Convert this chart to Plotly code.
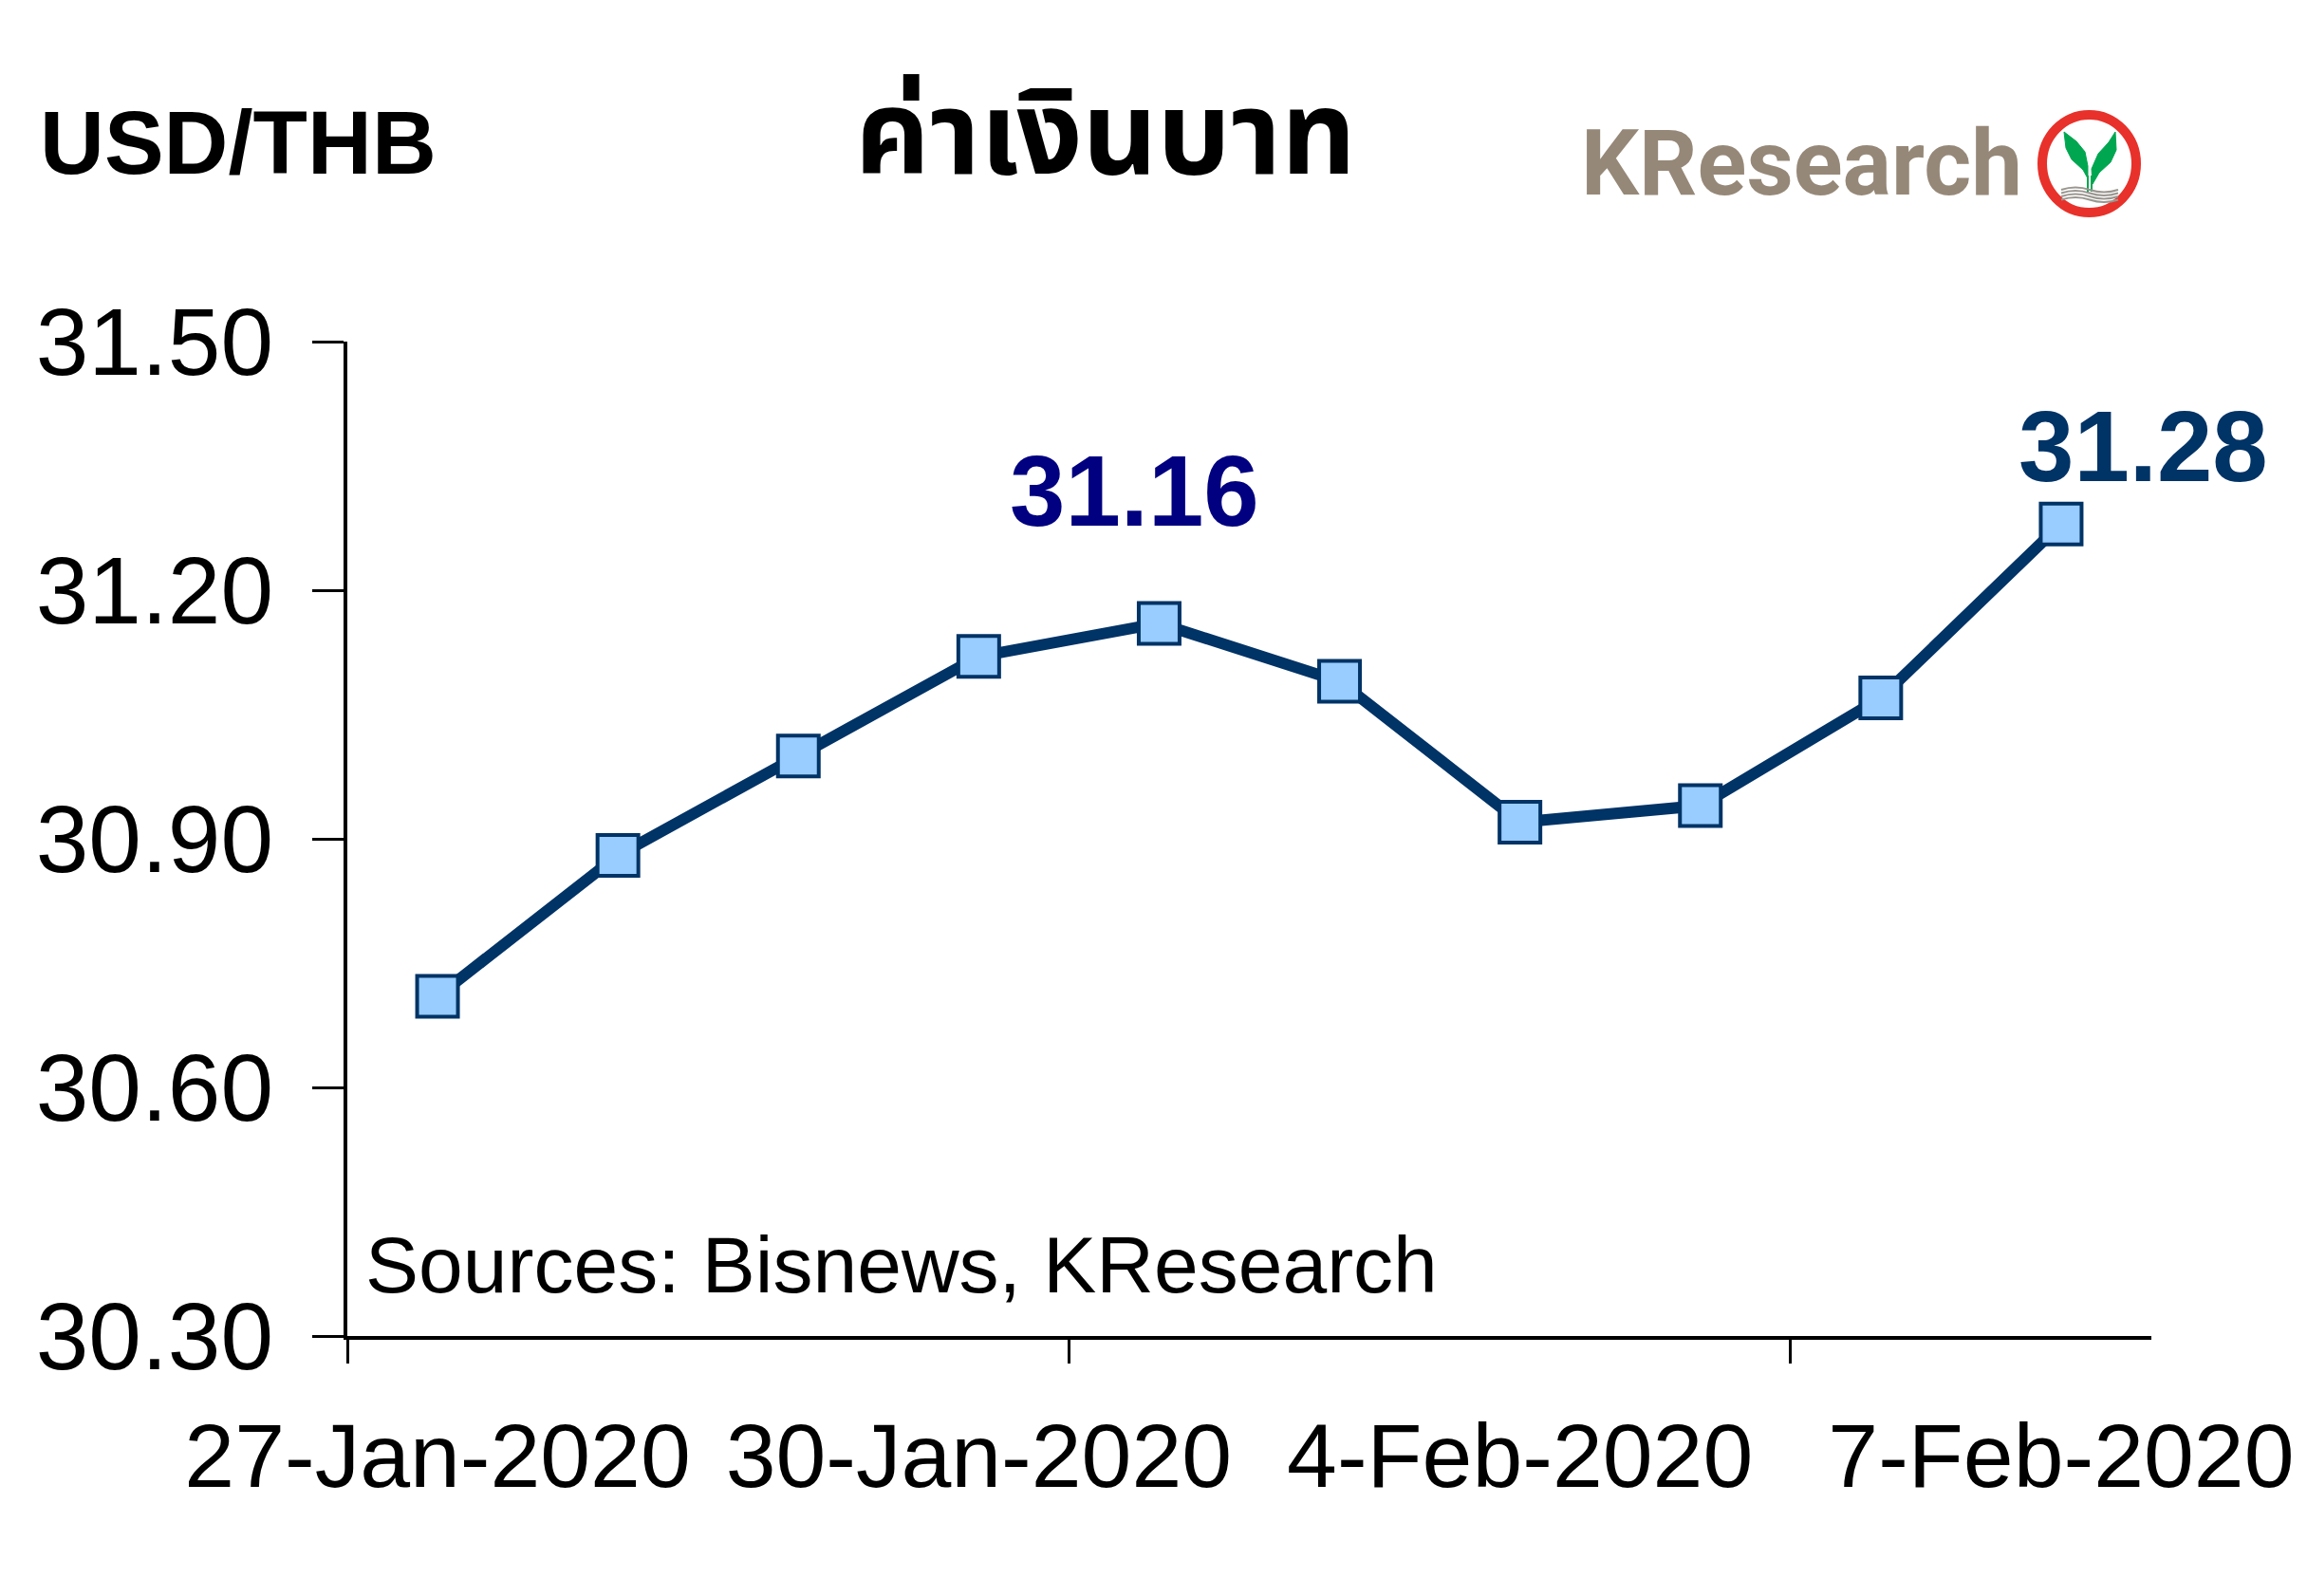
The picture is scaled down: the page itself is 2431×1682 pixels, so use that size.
import plotly.graph_objects as go

# ---- data ----
dates = ["27-Jan-2020", "28-Jan-2020", "29-Jan-2020", "30-Jan-2020", "31-Jan-2020",
         "3-Feb-2020", "4-Feb-2020", "5-Feb-2020", "6-Feb-2020", "7-Feb-2020"]
usd_thb = [30.71, 30.88, 31.00, 31.12, 31.16, 31.09, 30.92, 30.94, 31.07, 31.28]
label_dates = ["27-Jan-2020", "30-Jan-2020", "4-Feb-2020", "7-Feb-2020"]
y_ticks = [30.30, 30.60, 30.90, 31.20, 31.50]

W, H = 2431, 1682
L, R, T, B = 366, 164, 360, 274
PW, PH = W - L - R, H - T - B


def px(x):
    return (x - L) / PW


def py(y):
    return (H - B - y) / PH


NAVY = "#003366"
FONT = "Liberation Sans, Arial, sans-serif"

fig = go.Figure()
fig.add_trace(go.Scatter(
    x=dates, y=usd_thb, mode="lines+markers",
    line=dict(color=NAVY, width=12),
    marker=dict(symbol="square", size=43, color="#99CCFF",
                line=dict(color=NAVY, width=4)),
    showlegend=False, hoverinfo="x+y",
))
# empty trace so the overlay axis carrying the boundary tick marks is drawn
fig.add_trace(go.Scatter(x=[], y=[], xaxis="x2", yaxis="y", showlegend=False,
                         hoverinfo="skip"))

fig.update_layout(
    width=W, height=H,
    margin=dict(l=L, r=R, t=T, b=B, pad=0),
    paper_bgcolor="white", plot_bgcolor="white",
    font=dict(family=FONT, color="black"),
    xaxis=dict(
        type="category", range=[-0.5, 9.5],
        tickmode="array", tickvals=label_dates, ticktext=label_dates,
        ticks="", showgrid=False, zeroline=False,
        showline=True, linecolor="black", linewidth=4,
        tickfont=dict(size=95, family=FONT, color="black"),
        ticklabelstandoff=41,
    ),
    xaxis2=dict(
        overlaying="x", anchor="y", side="bottom", type="linear",
        range=[-0.5, 9.5], tickmode="array", tickvals=[-0.5, 3.5, 7.5],
        ticks="outside", ticklen=28, tickwidth=3, tickcolor="black",
        showticklabels=False, showgrid=False, zeroline=False, showline=False,
    ),
    yaxis=dict(
        range=[30.30, 31.50], tickmode="array", tickvals=y_ticks,
        tickformat=".2f", ticks="outside", ticklen=33, tickwidth=3,
        tickcolor="black", showgrid=False, zeroline=False,
        showline=True, linecolor="black", linewidth=4,
        tickfont=dict(size=100, family=FONT, color="black"),
        ticklabelstandoff=21,
    ),
)

ann = []
ann.append(dict(text="USD/THB", xref="paper", yref="paper", x=px(40), y=py(151),
                xanchor="left", yanchor="middle", showarrow=False,
                font=dict(size=94, family=FONT, color="black", weight="bold")))
ann.append(dict(text="ค่าเงินบาท", xref="paper", yref="paper", x=px(1165), y=py(146),
                xanchor="center", yanchor="middle", showarrow=False,
                font=dict(size=122, family="Noto Sans Thai, Noto Sans, sans-serif",
                          color="black", weight="bold")))
ann.append(dict(text="KResearch", xref="paper", yref="paper", x=px(1664), y=py(172),
                xanchor="left", yanchor="middle", showarrow=False,
                font=dict(size=96, family="Roboto, Liberation Sans, sans-serif",
                          color="#968878", weight="bold")))
ann.append(dict(text="Sources: Bisnews, KResearch", xref="paper", yref="paper",
                x=px(383), y=py(1333), xanchor="left", yanchor="middle", showarrow=False,
                font=dict(size=84, family=FONT, color="black")))
# value labels
ann.append(dict(text=f"{usd_thb[4]:.2f}", x=dates[4], y=usd_thb[4], xref="x", yref="y",
                xshift=-26, yshift=139, showarrow=False, xanchor="center", yanchor="middle",
                font=dict(size=105, family=FONT, color="#000080", weight="bold")))
ann.append(dict(text=f"{usd_thb[9]:.2f}", x=dates[9], y=usd_thb[9], xref="x", yref="y",
                xshift=87, yshift=82, showarrow=False, xanchor="center", yanchor="middle",
                font=dict(size=105, family=FONT, color=NAVY, weight="bold")))
fig.update_layout(annotations=ann)

# ---- logo emblem ----
shapes = []
shapes.append(dict(type="circle", xref="paper", yref="paper",
                   x0=px(2152), x1=px(2251), y0=py(224), y1=py(121),
                   line=dict(color="#E8312A", width=10), fillcolor="white", layer="above"))


def path(points, close=True):
    s = "M " + " L ".join(f"{px(a):.5f},{py(b):.5f}" for a, b in points)
    return s + (" Z" if close else "")


left_leaf = [(2175, 139), (2188, 149), (2197, 160), (2200, 175), (2200, 188),
             (2195, 179), (2183, 168), (2177, 156)]
right_leaf = [(2229, 139), (2230, 158), (2224, 171), (2212, 182), (2205, 194),
              (2204, 178), (2211, 162), (2222, 150)]
for leaf in (left_leaf, right_leaf):
    shapes.append(dict(type="path", xref="paper", yref="paper", path=path(leaf),
                       fillcolor="#00A650", line=dict(color="#00A650", width=1), layer="above"))
for sx in (2200, 2204):
    shapes.append(dict(type="line", xref="paper", yref="paper",
                       x0=px(sx), x1=px(sx), y0=py(185), y1=py(202),
                       line=dict(color="#00A650", width=2), layer="above"))
for k in range(4):
    yy = 200 + k * 3.5
    p = (f"M {px(2172):.5f},{py(yy):.5f} Q {px(2187):.5f},{py(yy-5):.5f} "
         f"{px(2202):.5f},{py(yy):.5f} T {px(2232):.5f},{py(yy):.5f}")
    shapes.append(dict(type="path", xref="paper", yref="paper", path=p,
                       line=dict(color="#9A9690", width=2), layer="above"))
fig.update_layout(shapes=shapes)

fig.write_html("out.html", config={"displayModeBar": False},
               post_script="document.body.style.margin='0';")
